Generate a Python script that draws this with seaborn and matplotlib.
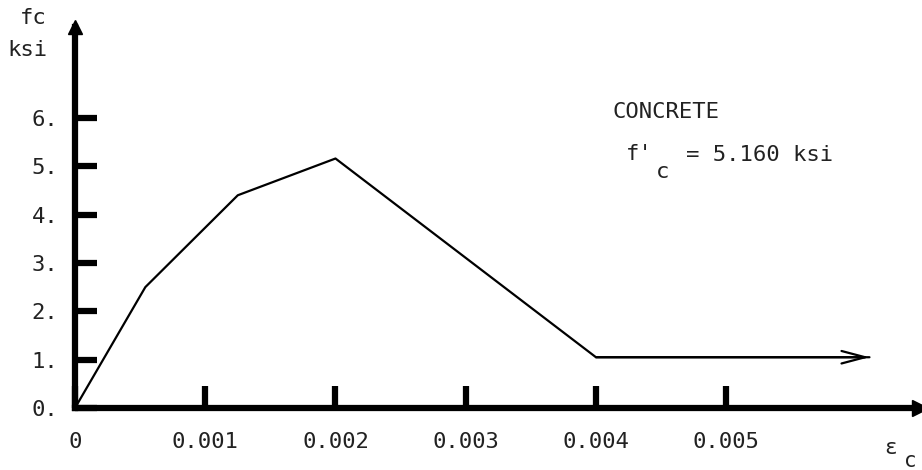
import matplotlib
matplotlib.use("Agg")
import matplotlib.pyplot as plt
import seaborn as sns
import pandas as pd

# ---- data ----
strain = [0.0, 0.00054, 0.00125, 0.002, 0.004, 0.0061]
stress = [0.0, 2.5, 4.4, 5.16, 1.05, 1.05]
x_ticks = [0.0, 0.001, 0.002, 0.003, 0.004, 0.005]
x_tick_labels = ["0", "0.001", "0.002", "0.003", "0.004", "0.005"]
y_ticks = [0, 1, 2, 3, 4, 5, 6]
y_tick_labels = ["0.", "1.", "2.", "3.", "4.", "5.", "6."]

sns.set_style("white")
plt.rcParams["font.family"] = ["DejaVu Sans Mono", "DejaVu Sans"]

W, H = 922, 470
fig = plt.figure(figsize=(W / 100, H / 100), dpi=100)
ax = fig.add_axes([75 / W, 62 / H, (920 - 75) / W, (408 - 27) / H])

df = pd.DataFrame({"strain": strain, "stress": stress})
sns.lineplot(data=df, x="strain", y="stress", sort=False, color="black",
             linewidth=1.6, ax=ax)
ax.annotate("", xy=(strain[-1], stress[-1]), xytext=(strain[-2], stress[-2]),
            arrowprops=dict(arrowstyle="->,head_length=1.7,head_width=0.45",
                            mutation_scale=10, lw=1.6, color="black",
                            shrinkA=0, shrinkB=0))

ax.set_xlim(0, 0.006488)
ax.set_ylim(0, 7.88)
ax.set_xticks(x_ticks)
ax.set_xticklabels(x_tick_labels)
ax.set_yticks(y_ticks)
ax.set_yticklabels(y_tick_labels)
ax.set_xlabel("")
ax.set_ylabel("")

for side in ["top", "right"]:
    ax.spines[side].set_visible(False)
for side in ["left", "bottom"]:
    ax.spines[side].set_linewidth(4.5)
    ax.spines[side].set_color("black")

ax.tick_params(axis="both", direction="in", length=16, width=4.5,
               color="black", labelsize=16, labelcolor="#222222",
               bottom=True, left=True)
ax.tick_params(axis="y", pad=12)
ax.tick_params(axis="x", pad=17)

# axis arrowheads
ax.plot(1, 0, marker=">", ms=12, color="black", transform=ax.transAxes, clip_on=False)
ax.plot(0, 1, marker="^", ms=10, color="black", transform=ax.transAxes, clip_on=False)

def ftext(px, py, s, **kw):
    fig.text(px / W, 1 - py / H, s, color="#222222", va="center", **kw)

ftext(47, 18, "fc", ha="right", fontsize=16)
ftext(47, 50, "ksi", ha="right", fontsize=16)
ftext(612, 112, "CONCRETE", ha="left", fontsize=16)
ftext(626, 154, "f'", ha="left", fontsize=16)
ftext(656, 172, "c", ha="left", fontsize=16)
ftext(686, 155, "= 5.160 ksi", ha="left", fontsize=16)
ftext(884, 448, "ε", ha="left", fontsize=15)
ftext(917, 461, "c", ha="right", fontsize=15)

fig.savefig("out.png", dpi=100)
